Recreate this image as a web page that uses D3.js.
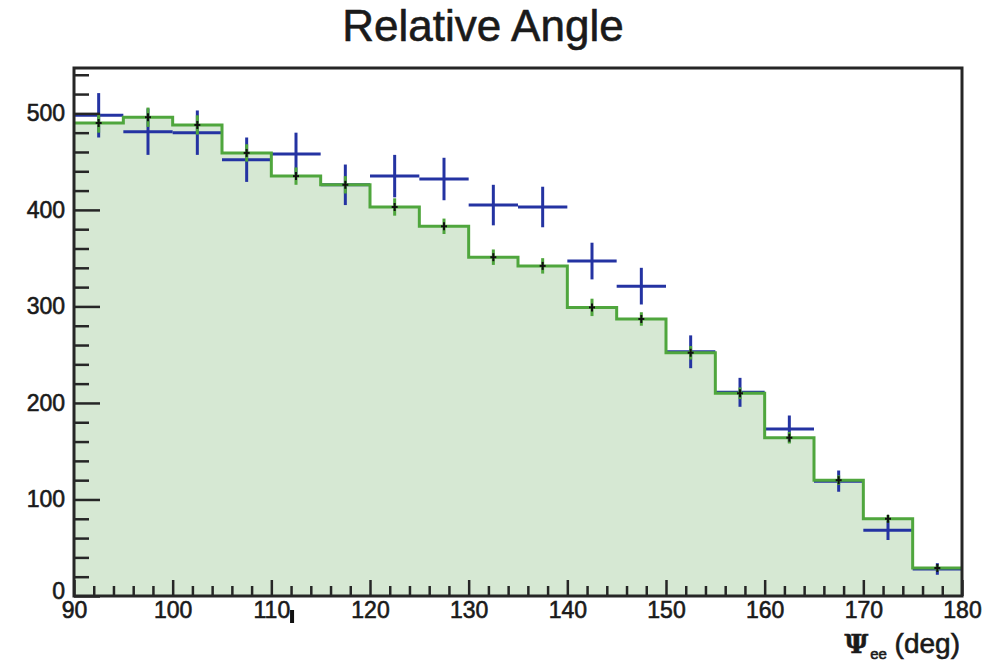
<!DOCTYPE html>
<html>
<head>
<meta charset="utf-8">
<script src="https://cdn.jsdelivr.net/npm/d3@7"></script>
<style>
  body { margin: 0; background: #fff; }
  svg { display: block; }
</style>
</head>
<body>
<div id="chart"></div>
<script>
// Relative angle between the two electrons, 5 degree bins from 90 to 180
const binLow = [90, 95, 100, 105, 110, 115, 120, 125, 130, 135, 140, 145, 150, 155, 160, 165, 170, 175];
const binWidth = 5;

// measured counts (blue crosses) and their errors
const dataCounts = [498, 481, 480, 452, 458, 426, 435, 432, 405, 403, 347, 321, 253, 211, 173, 119, 68, 28];
const dataErrors = [23, 24, 23, 23, 22, 21, 22, 22, 21, 21, 19, 19, 17, 15, 14, 11, 10, 6];

// simulation (filled green histogram) and its errors
const mcCounts = [490, 496, 488, 459, 435, 426, 403, 383, 351, 342, 299, 287, 252, 210, 164, 120, 80, 29];
const mcErrors = [10, 10, 10, 9, 9, 9, 9, 8, 8, 8, 9, 7, 7, 6, 6, 5, 4, 3];

const xMajor = [90, 100, 110, 120, 130, 140, 150, 160, 170, 180];
const yMajor = [0, 100, 200, 300, 400, 500];

const width = 995, height = 665;
const margin = { left: 74, right: 33, top: 68, bottom: 69 };

const green = "#4fa63d";
const greenFill = "#d6e8d3";
const blue = "#2433a2";
const frameColor = "#262626";
const textColor = "#1a1a1a";
const font = "'Liberation Sans', Arial, Helvetica, sans-serif";

const svg = d3.select("#chart").append("svg")
    .attr("width", width)
    .attr("height", height);

const x = d3.scaleLinear().domain([90, 180]).range([margin.left, width - margin.right]);
const y = d3.scaleLinear().domain([0, 547]).range([height - margin.bottom, margin.top]);

// title
svg.append("text")
    .attr("x", 483)
    .attr("y", 41)
    .attr("text-anchor", "middle")
    .attr("font-family", font)
    .attr("font-size", 44)
    .attr("fill", textColor)
    .attr("stroke", textColor)
    .attr("stroke-width", 0.6)
    .text("Relative Angle");

// histogram points for the step shapes (repeat the last level at the upper edge)
const steps = binLow.map((lo, i) => ({ x: lo, v: mcCounts[i] }));
steps.push({ x: binLow[binLow.length - 1] + binWidth, v: mcCounts[mcCounts.length - 1] });

svg.append("path")
    .datum(steps)
    .attr("fill", greenFill)
    .attr("d", d3.area()
        .curve(d3.curveStepAfter)
        .x(d => x(d.x))
        .y0(y(0))
        .y1(d => y(d.v)));

// data crosses
const pts = svg.append("g")
    .attr("stroke", blue)
    .attr("stroke-width", 3)
    .selectAll("g")
    .data(binLow.map((lo, i) => ({ lo, v: dataCounts[i], e: dataErrors[i] })))
    .join("g");

pts.append("line")
    .attr("x1", d => x(d.lo))
    .attr("x2", d => x(d.lo + binWidth))
    .attr("y1", d => y(d.v))
    .attr("y2", d => y(d.v));

pts.append("line")
    .attr("x1", d => x(d.lo + binWidth / 2))
    .attr("x2", d => x(d.lo + binWidth / 2))
    .attr("y1", d => y(d.v - d.e))
    .attr("y2", d => y(d.v + d.e));

// simulation outline
svg.append("path")
    .datum(steps)
    .attr("fill", "none")
    .attr("stroke", green)
    .attr("stroke-width", 3)
    .attr("d", d3.line()
        .curve(d3.curveStepAfter)
        .x(d => x(d.x))
        .y(d => y(d.v)));

// simulation error bars with a small black marker
const mc = svg.append("g")
    .selectAll("g")
    .data(binLow.map((lo, i) => ({ c: lo + binWidth / 2, v: mcCounts[i], e: mcErrors[i] })))
    .join("g");

mc.append("line")
    .attr("stroke", green)
    .attr("stroke-width", 3)
    .attr("x1", d => x(d.c))
    .attr("x2", d => x(d.c))
    .attr("y1", d => y(d.v - d.e))
    .attr("y2", d => y(d.v + d.e));

mc.append("line")
    .attr("stroke", "#111")
    .attr("stroke-width", 2)
    .attr("x1", d => x(d.c))
    .attr("x2", d => x(d.c))
    .attr("y1", d => y(d.v) - 4)
    .attr("y2", d => y(d.v) + 4);

mc.append("line")
    .attr("stroke", "#111")
    .attr("stroke-width", 2)
    .attr("x1", d => x(d.c) - 3)
    .attr("x2", d => x(d.c) + 3)
    .attr("y1", d => y(d.v))
    .attr("y2", d => y(d.v));

// axes: ticks point into the frame
const yMinor = d3.range(0, 547, 20).filter(v => v % 100 !== 0);
const xMinor = d3.range(90, 181, 2).filter(v => v % 10 !== 0);

const tickStyle = g => {
    g.select(".domain").remove();
    g.selectAll(".tick line").attr("stroke", frameColor).attr("stroke-width", 2.5);
    g.selectAll("text")
        .attr("font-family", font)
        .attr("font-size", 23)
        .attr("fill", textColor)
        .attr("stroke", textColor)
        .attr("stroke-width", 0.6);
};

svg.append("g")
    .attr("transform", `translate(${margin.left},0)`)
    .call(d3.axisLeft(y).tickValues(yMinor).tickSize(-15).tickFormat(""))
    .call(tickStyle);

svg.append("g")
    .attr("transform", `translate(${margin.left},0)`)
    .call(d3.axisLeft(y).tickValues(yMajor).tickSize(-26).tickPadding(9).tickFormat(d3.format("d")))
    .call(tickStyle)
    // the zero label sits a little higher, clear of the 90 below it
    .call(g => g.selectAll(".tick text").filter(d => d === 0).attr("dy", "0.1em"));

svg.append("g")
    .attr("transform", `translate(0,${height - margin.bottom})`)
    .call(d3.axisBottom(x).tickValues(xMinor).tickSize(-10).tickFormat(""))
    .call(tickStyle);

svg.append("g")
    .attr("transform", `translate(0,${height - margin.bottom})`)
    .call(d3.axisBottom(x).tickValues(xMajor).tickSize(-16).tickPadding(6).tickFormat(d3.format("d")))
    .call(tickStyle);

// frame
svg.append("rect")
    .attr("x", x(90))
    .attr("y", y(547))
    .attr("width", x(180) - x(90))
    .attr("height", y(0) - y(547))
    .attr("fill", "none")
    .attr("stroke", frameColor)
    .attr("stroke-width", 3);

// small dark mark under the axis near 112
svg.append("rect")
    .attr("x", x(112.1) - 2)
    .attr("y", y(0) + 14)
    .attr("width", 4)
    .attr("height", 13)
    .attr("fill", "#111");

// x axis title
const xt = svg.append("text")
    .attr("x", 960)
    .attr("y", 653)
    .attr("text-anchor", "end")
    .attr("font-family", font)
    .attr("font-size", 28)
    .attr("fill", textColor)
    .attr("stroke", textColor)
    .attr("stroke-width", 0.6);
xt.append("tspan").attr("font-family", "'DejaVu Serif', serif").attr("font-weight", "bold").attr("font-size", 26).text("Ψ");
xt.append("tspan").attr("font-size", 15).attr("dy", 6).attr("dx", 2).text("ee");
xt.append("tspan").attr("dy", -6).text(" (deg)");
</script>
</body>
</html>
